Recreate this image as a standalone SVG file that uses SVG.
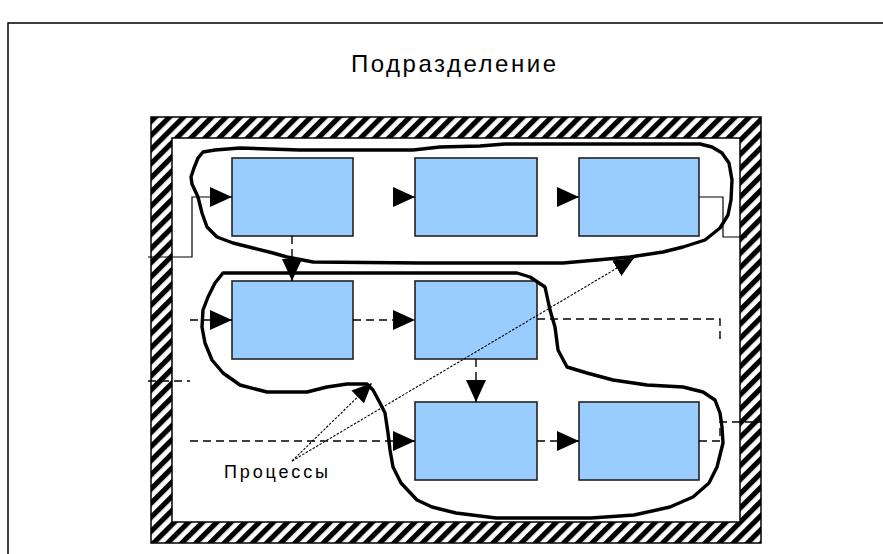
<svg xmlns="http://www.w3.org/2000/svg" width="883" height="554" viewBox="0 0 883 554">
  <defs>
    <!-- diagonal hatching for the walls of the unit -->
    <pattern id="hatch" patternUnits="userSpaceOnUse" width="10" height="10" patternTransform="rotate(45)">
      <rect x="0" y="0" width="10" height="10" fill="#fff"/>
      <rect x="0" y="0" width="5.2" height="10" fill="#000"/>
    </pattern>
    <marker id="ah" viewBox="0 0 22 20" refX="22" refY="10" markerWidth="22" markerHeight="20" markerUnits="userSpaceOnUse" orient="auto">
      <path d="M0,0 L22,10 L0,20 Z" fill="#000"/>
    </marker>
    <marker id="ahs" viewBox="0 0 20 18" refX="20" refY="9" markerWidth="20" markerHeight="18" markerUnits="userSpaceOnUse" orient="auto">
      <path d="M0,0 L20,9 L0,18 Z" fill="#000"/>
    </marker>
    <style>
      .frame { fill: none; stroke: #000; stroke-width: 1.5; }
      .box { fill: #99CCFF; stroke: #222; stroke-width: 1.6; }
      .solid { fill: none; stroke: #000; stroke-width: 1.2; }
      .dash { fill: none; stroke: #000; stroke-width: 1.4; stroke-dasharray: 8 5; }
      .dot { fill: none; stroke: #000; stroke-width: 1.1; stroke-dasharray: 2.5 1.5; }
      .proc { fill: none; stroke: #000; stroke-width: 3.4; stroke-linejoin: round; stroke-linecap: round; }
      .label { font-family: "Liberation Sans", Arial, sans-serif; fill: #000; }
    </style>
  </defs>

  <rect width="883" height="554" fill="#fff"/>

  <!-- outer sheet border -->
  <rect class="frame" x="8" y="23" width="900" height="600"/>
  <text class="label" x="351" y="72" font-size="24" textLength="205" lengthAdjust="spacing">Подразделение</text>

  <!-- hatched walls -->
  <g id="walls">
    <rect x="151" y="117" width="610" height="426" fill="url(#hatch)" stroke="#000" stroke-width="1.5"/>
    <rect x="172" y="138" width="568" height="384" fill="#fff" stroke="#000" stroke-width="1.5"/>
  </g>

  <!-- work units -->
  <g id="n1"><rect class="box" x="232" y="158" width="121" height="78"/></g>
  <g id="n2"><rect class="box" x="415" y="158" width="122" height="78"/></g>
  <g id="n3"><rect class="box" x="579" y="158" width="120" height="78"/></g>
  <g id="n4"><rect class="box" x="232" y="281" width="121" height="78"/></g>
  <g id="n5"><rect class="box" x="415" y="281" width="122" height="78"/></g>
  <g id="n6"><rect class="box" x="415" y="402" width="122" height="78"/></g>
  <g id="n7"><rect class="box" x="579" y="402" width="120" height="78"/></g>

  <g id="connectors">
    <!-- top row -->
    <path class="solid" d="M148,257 H192 V197 H232" marker-end="url(#ah)"/>
    <path class="solid" d="M395,197 H415" stroke="none" marker-end="url(#ah)"/>
    <path class="solid" d="M559,197 H579" stroke="none" marker-end="url(#ah)"/>
    <path class="solid" d="M699,197 H723 V237 H747"/>
    <path class="dash" d="M292,236 V281" marker-end="url(#ah)"/>
    <!-- middle row -->
    <path class="dash" d="M190,320 H232" marker-end="url(#ah)"/>
    <path class="dash" d="M353,320 H415" marker-end="url(#ah)"/>
    <path class="dash" d="M537,319 H720 V341"/>
    <path class="dash" d="M148,381 H190"/>
    <path class="dash" d="M476,359 V402" marker-end="url(#ah)"/>
    <!-- bottom row -->
    <path class="dash" d="M190,441 H415" marker-end="url(#ah)"/>
    <path class="dash" d="M537,441 H579" marker-end="url(#ah)"/>
    <path class="dash" d="M699,441 H720 V422 H762"/>
    <!-- callout lines for the label -->
    <path class="dot" d="M292,461 L372,383" marker-end="url(#ahs)"/>
    <path class="dot" d="M292,461 L634,258" marker-end="url(#ahs)"/>
  </g>

  <!-- process outlines -->
  <g id="processes">
    <path id="process-a" class="proc" d="M215,150 L240,148 L300,150 L413,150 L440,147 L480,146 L505,144 L700,144 L712,147 L722,153 L729,163 L732,180 L731,200 L728,215 L720,228 L705,240 L683,247 L663,252 L630,257 L597,260 L563,263 L420,263 L313,262 L287,257 L273,253 L253,248 L233,243 L217,237 L207,227 L202,213 L198,197 L192,184 L191,177 L194,168 L198,158 L203,152 Z"/>
    <path id="process-b" class="proc" d="M223,273 L517,273 L530,277 L545,287 L550,310 L555,327 L558,350 L567,367 L587,373 L613,380 L647,385 L683,387 L703,392 L715,400 L720,413 L722,427 L723,443 L717,467 L709,483 L693,497 L670,507 L634,515 L591,518 L496,518 L456,513 L432,507 L417,500 L401,483 L393,467 L390,450 L388,433 L385,413 L380,403 L373,390 L367,384 L347,384 L327,387 L307,392 L267,392 L240,385 L223,373 L212,360 L205,343 L202,327 L203,310 L208,297 L215,283 Z"/>
  </g>

  <text class="label" x="224" y="478" font-size="18" textLength="104" lengthAdjust="spacing">Процессы</text>
</svg>
